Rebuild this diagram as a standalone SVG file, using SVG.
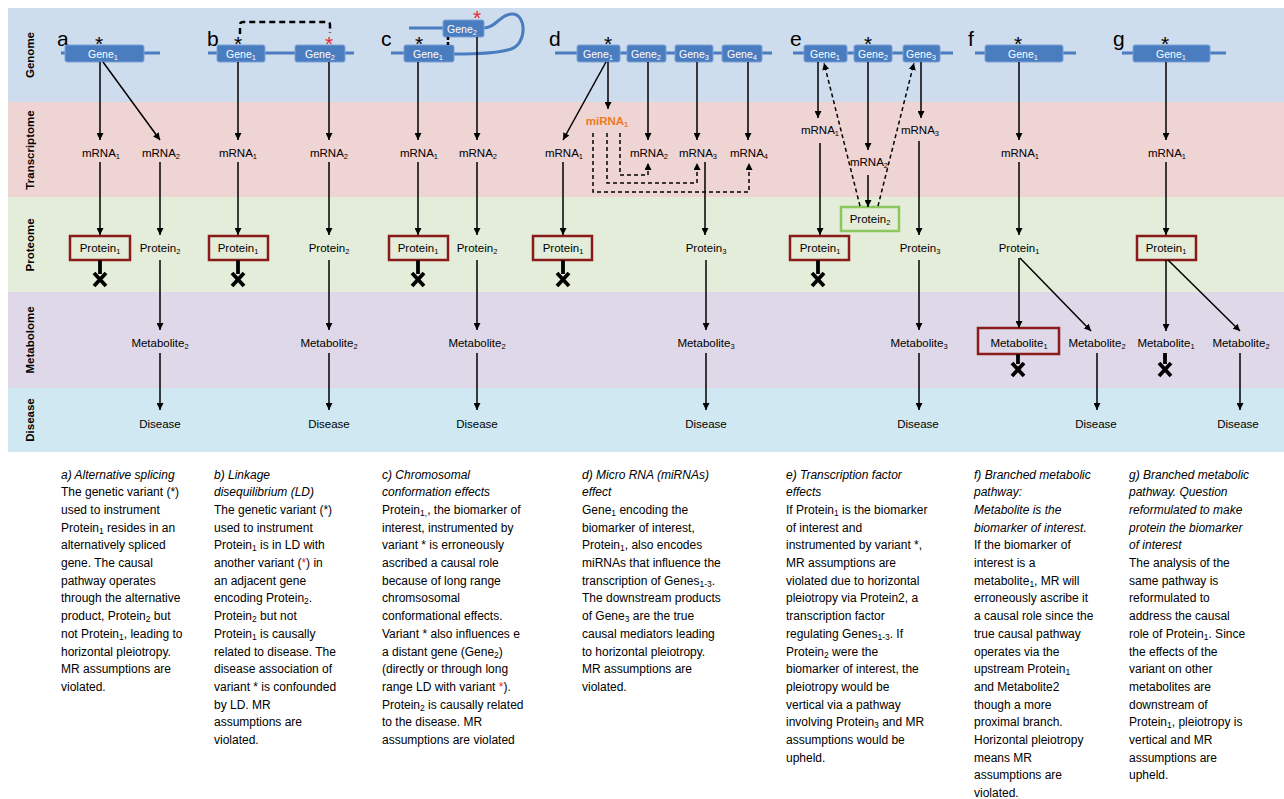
<svg xmlns="http://www.w3.org/2000/svg" width="1284" height="799" viewBox="0 0 1284 799">
<defs>
<marker id="ah" viewBox="0 0 10 10" refX="10" refY="5" markerWidth="7" markerHeight="7" markerUnits="userSpaceOnUse" orient="auto">
<path d="M0,0 L10,5 L0,10 z" fill="#000"/>
</marker>
<style>
text{font-family:"Liberation Sans",Arial,sans-serif;}
.lbl{font-size:11.5px;text-anchor:middle;fill:#000}
.s{font-size:7.5px;baseline-shift:-1.5px}
.gt{font-size:10.5px;text-anchor:middle;fill:#fff}
.gb{fill:#4A7CC0;stroke:#7AA2D6;stroke-width:1}
.gl{stroke:#4A7CC0;stroke-width:3;fill:none}
.row{font-size:11.5px;font-weight:bold;text-anchor:middle}
.let{font-size:21px}
.star{font-size:21px;text-anchor:middle;fill:#000}
.red{fill:#E8282A}
.ar{stroke:#000;stroke-width:1.5;fill:none;marker-end:url(#ah)}
.da{stroke:#000;stroke-width:1.5;fill:none;stroke-dasharray:4,3;marker-end:url(#ah)}
.pb{fill:none;stroke:#8B1A1A;stroke-width:2.5}
.gb2{fill:none;stroke:#8CC65E;stroke-width:2.5}
.x{stroke:#000;stroke-width:3.8;fill:none}
.body{font-size:12px;fill:#000}
.it{font-style:italic}
.bs{font-size:8.5px;baseline-shift:-2px}
</style>
</defs>

<!-- bands -->
<g id="bands">
<rect x="8" y="8" width="1276" height="94" fill="#CEDDEE"/>
<rect x="8" y="102" width="1276" height="95" fill="#EFD4D4"/>
<rect x="8" y="197" width="1276" height="95" fill="#E3EDD9"/>
<rect x="8" y="292" width="1276" height="96" fill="#DFD8E8"/>
<rect x="8" y="388" width="1276" height="64" fill="#CFE8F1"/>
<text class="row" transform="translate(34,55) rotate(-90)">Genome</text>
<text class="row" transform="translate(34,150) rotate(-90)">Transcriptome</text>
<text class="row" transform="translate(34,245) rotate(-90)">Proteome</text>
<text class="row" transform="translate(34,340) rotate(-90)">Metabolome</text>
<text class="row" transform="translate(34,420) rotate(-90)">Disease</text>
</g>

<!-- Panel a -->
<g id="panel-a">
<text class="let" x="57" y="46">a</text>
<line class="gl" x1="61" y1="53" x2="160" y2="53"/>
<rect class="gb" x="65" y="45" width="79" height="17" rx="2"/>
<text class="gt" x="103" y="57.5">Gene<tspan class="s">1</tspan></text>
<text class="star" x="99" y="51">*</text>
<text class="lbl" x="101" y="157">mRNA<tspan class="s">1</tspan></text>
<text class="lbl" x="161" y="157">mRNA<tspan class="s">2</tspan></text>
<rect class="pb" x="70" y="236" width="60" height="24"/>
<text class="lbl" x="100" y="252">Protein<tspan class="s">1</tspan></text>
<text class="lbl" x="160" y="252">Protein<tspan class="s">2</tspan></text>
<text class="lbl" x="160" y="347">Metabolite<tspan class="s">2</tspan></text>
<text class="lbl" x="160" y="428">Disease</text>
</g>

<!-- Panel b -->
<g id="panel-b">
<text class="let" x="207" y="46">b</text>
<line class="gl" x1="208" y1="53" x2="354" y2="53"/>
<rect class="gb" x="217" y="45" width="48" height="17" rx="2"/>
<rect class="gb" x="295" y="45" width="50" height="17" rx="2"/>
<text class="gt" x="241" y="57.5">Gene<tspan class="s">1</tspan></text>
<text class="gt" x="320" y="57.5">Gene<tspan class="s">2</tspan></text>
<text class="star" x="238" y="51">*</text>
<text class="star red" x="329" y="51">*</text>
<text class="lbl" x="238" y="157">mRNA<tspan class="s">1</tspan></text>
<text class="lbl" x="329" y="157">mRNA<tspan class="s">2</tspan></text>
<rect class="pb" x="209" y="236" width="59" height="24"/>
<text class="lbl" x="238" y="252">Protein<tspan class="s">1</tspan></text>
<text class="lbl" x="329" y="252">Protein<tspan class="s">2</tspan></text>
<text class="lbl" x="329" y="347">Metabolite<tspan class="s">2</tspan></text>
<text class="lbl" x="329" y="428">Disease</text>
</g>

<!-- Panel c -->
<g id="panel-c">
<text class="let" x="381" y="46">c</text>
<path class="gl" d="M409,28 L443,28 M484,28 C496,28 500,14 512,14 C527,14 527,44 511,49 C497,54 470,54 454,54 M391,53 L404,53"/>
<rect class="gb" x="443" y="20" width="41" height="17" rx="2"/>
<rect class="gb" x="404" y="45" width="50" height="17" rx="2"/>
<text class="gt" x="462" y="32.5">Gene<tspan class="s">2</tspan></text>
<text class="gt" x="428" y="57.5">Gene<tspan class="s">1</tspan></text>
<text class="star" x="419" y="51">*</text>
<text class="star red" x="477" y="25">*</text>
<line x1="448" y1="37" x2="448" y2="46" stroke="#000" stroke-width="2.5" stroke-dasharray="3,2"/>
<text class="lbl" x="419" y="157">mRNA<tspan class="s">1</tspan></text>
<text class="lbl" x="478" y="157">mRNA<tspan class="s">2</tspan></text>
<rect class="pb" x="389" y="236" width="59" height="24"/>
<text class="lbl" x="418" y="252">Protein<tspan class="s">1</tspan></text>
<text class="lbl" x="477" y="252">Protein<tspan class="s">2</tspan></text>
<text class="lbl" x="477" y="347">Metabolite<tspan class="s">2</tspan></text>
<text class="lbl" x="477" y="428">Disease</text>
</g>

<!-- Panel d -->
<g id="panel-d">
<text class="let" x="549" y="46">d</text>
<line class="gl" x1="555" y1="53" x2="772" y2="53"/>
<rect class="gb" x="577" y="45" width="43" height="17" rx="2"/>
<rect class="gb" x="627" y="45" width="39" height="17" rx="2"/>
<rect class="gb" x="675" y="45" width="38" height="17" rx="2"/>
<rect class="gb" x="722" y="45" width="40" height="17" rx="2"/>
<text class="gt" x="598" y="57.5">Gene<tspan class="s">1</tspan></text>
<text class="gt" x="646" y="57.5">Gene<tspan class="s">2</tspan></text>
<text class="gt" x="694" y="57.5">Gene<tspan class="s">3</tspan></text>
<text class="gt" x="742" y="57.5">Gene<tspan class="s">4</tspan></text>
<text class="star" x="608" y="51">*</text>
<text class="lbl" x="607" y="125" style="fill:#EE7A22;font-weight:bold">miRNA<tspan class="s">1</tspan></text>
<text class="lbl" x="564" y="157">mRNA<tspan class="s">1</tspan></text>
<text class="lbl" x="649" y="157">mRNA<tspan class="s">2</tspan></text>
<text class="lbl" x="698" y="157">mRNA<tspan class="s">3</tspan></text>
<text class="lbl" x="749" y="157">mRNA<tspan class="s">4</tspan></text>
<rect class="pb" x="533" y="236" width="59" height="24"/>
<text class="lbl" x="563" y="252">Protein<tspan class="s">1</tspan></text>
<text class="lbl" x="706" y="252">Protein<tspan class="s">3</tspan></text>
<text class="lbl" x="706" y="347">Metabolite<tspan class="s">3</tspan></text>
<text class="lbl" x="706" y="428">Disease</text>
</g>

<!-- Panel e -->
<g id="panel-e">
<text class="let" x="790" y="46">e</text>
<line class="gl" x1="793" y1="53" x2="953" y2="53"/>
<rect class="gb" x="804" y="45" width="43" height="17" rx="2"/>
<rect class="gb" x="854" y="45" width="38" height="17" rx="2"/>
<rect class="gb" x="903" y="45" width="37" height="17" rx="2"/>
<text class="gt" x="825" y="57.5">Gene<tspan class="s">1</tspan></text>
<text class="gt" x="873" y="57.5">Gene<tspan class="s">2</tspan></text>
<text class="gt" x="921" y="57.5">Gene<tspan class="s">3</tspan></text>
<text class="star" x="868" y="51">*</text>
<text class="lbl" x="820" y="134">mRNA<tspan class="s">1</tspan></text>
<text class="lbl" x="869" y="166">mRNA<tspan class="s">2</tspan></text>
<text class="lbl" x="920" y="134">mRNA<tspan class="s">3</tspan></text>
<rect class="gb2" x="841" y="207" width="58" height="24"/>
<text class="lbl" x="870" y="223">Protein<tspan class="s">2</tspan></text>
<rect class="pb" x="790" y="236" width="59" height="24"/>
<text class="lbl" x="820" y="252">Protein<tspan class="s">1</tspan></text>
<text class="lbl" x="920" y="252">Protein<tspan class="s">3</tspan></text>
<text class="lbl" x="919" y="347">Metabolite<tspan class="s">3</tspan></text>
<text class="lbl" x="918" y="428">Disease</text>
</g>

<!-- Panel f -->
<g id="panel-f">
<text class="let" x="968" y="46">f</text>
<line class="gl" x1="975" y1="53" x2="1076" y2="53"/>
<rect class="gb" x="985" y="45" width="78" height="17" rx="2"/>
<text class="gt" x="1023" y="57.5">Gene<tspan class="s">1</tspan></text>
<text class="star" x="1018" y="51">*</text>
<text class="lbl" x="1020" y="157">mRNA<tspan class="s">1</tspan></text>
<text class="lbl" x="1019" y="252">Protein<tspan class="s">1</tspan></text>
<rect class="pb" x="978" y="328" width="81" height="26"/>
<text class="lbl" x="1019" y="347">Metabolite<tspan class="s">1</tspan></text>
<text class="lbl" x="1097" y="347">Metabolite<tspan class="s">2</tspan></text>
<text class="lbl" x="1096" y="428">Disease</text>
</g>

<!-- Panel g -->
<g id="panel-g">
<text class="let" x="1113" y="46">g</text>
<line class="gl" x1="1122" y1="53" x2="1226" y2="53"/>
<rect class="gb" x="1133" y="45" width="77" height="17" rx="2"/>
<text class="gt" x="1171" y="57.5">Gene<tspan class="s">1</tspan></text>
<text class="star" x="1165" y="51">*</text>
<text class="lbl" x="1167" y="157">mRNA<tspan class="s">1</tspan></text>
<rect class="pb" x="1137" y="236" width="59" height="24"/>
<text class="lbl" x="1166" y="252">Protein<tspan class="s">1</tspan></text>
<text class="lbl" x="1166" y="347">Metabolite<tspan class="s">1</tspan></text>
<text class="lbl" x="1241" y="347">Metabolite<tspan class="s">2</tspan></text>
<text class="lbl" x="1238" y="428">Disease</text>
</g>

<!-- connectors -->
<g id="connectors">
<!-- a -->
<line class="ar" x1="100" y1="62" x2="100" y2="140"/>
<line class="ar" x1="103" y1="62" x2="160" y2="140"/>
<line class="ar" x1="100" y1="162" x2="100" y2="235"/>
<line class="ar" x1="160" y1="162" x2="160" y2="235"/>
<line class="ar" x1="160" y1="260" x2="160" y2="330"/>
<line class="ar" x1="160" y1="353" x2="160" y2="410"/>
<!-- b -->
<path d="M240,34 L240,25 Q240,22 243,22 L327,22 Q330,22 330,25 L330,33" fill="none" stroke="#000" stroke-width="2.5" stroke-dasharray="6,4"/>
<line class="ar" x1="238" y1="62" x2="238" y2="140"/>
<line class="ar" x1="329" y1="62" x2="329" y2="140"/>
<line class="ar" x1="238" y1="162" x2="238" y2="235"/>
<line class="ar" x1="329" y1="162" x2="329" y2="235"/>
<line class="ar" x1="329" y1="260" x2="329" y2="330"/>
<line class="ar" x1="329" y1="353" x2="329" y2="410"/>
<!-- c -->
<line class="ar" x1="418" y1="62" x2="418" y2="140"/>
<line class="ar" x1="477" y1="37" x2="477" y2="140"/>
<line class="ar" x1="418" y1="162" x2="418" y2="235"/>
<line class="ar" x1="477" y1="162" x2="477" y2="235"/>
<line class="ar" x1="477" y1="260" x2="477" y2="330"/>
<line class="ar" x1="477" y1="353" x2="477" y2="410"/>
<!-- d -->
<line class="ar" x1="608" y1="62" x2="608" y2="109"/>
<line class="ar" x1="606" y1="62" x2="563" y2="140"/>
<line class="ar" x1="648" y1="62" x2="648" y2="140"/>
<line class="ar" x1="697" y1="62" x2="697" y2="140"/>
<line class="ar" x1="748" y1="62" x2="748" y2="140"/>
<path class="da" d="M620,133 L620,175 L648,175 L648,163"/>
<path class="da" d="M607,133 L607,183 L697,183 L697,163"/>
<path class="da" d="M593,133 L593,192 L749,192 L749,163"/>
<line class="ar" x1="563" y1="162" x2="563" y2="235"/>
<line class="ar" x1="705" y1="162" x2="705" y2="235"/>
<line class="ar" x1="706" y1="260" x2="706" y2="330"/>
<line class="ar" x1="706" y1="353" x2="706" y2="410"/>
<!-- e -->
<line class="ar" x1="818" y1="62" x2="818" y2="118"/>
<line class="ar" x1="868" y1="62" x2="868" y2="150"/>
<line class="ar" x1="921" y1="62" x2="921" y2="118"/>
<line class="ar" x1="820" y1="143" x2="820" y2="235"/>
<line class="ar" x1="868" y1="175" x2="868" y2="207"/>
<line class="da" x1="860" y1="206" x2="824" y2="63"/>
<line class="da" x1="878" y1="206" x2="914" y2="63"/>
<line class="ar" x1="919" y1="141" x2="919" y2="235"/>
<line class="ar" x1="919" y1="260" x2="919" y2="330"/>
<line class="ar" x1="919" y1="353" x2="919" y2="410"/>
<!-- f -->
<line class="ar" x1="1019" y1="62" x2="1019" y2="140"/>
<line class="ar" x1="1019" y1="162" x2="1019" y2="235"/>
<line class="ar" x1="1019" y1="258" x2="1019" y2="328"/>
<line class="ar" x1="1020" y1="258" x2="1091" y2="331"/>
<line class="ar" x1="1097" y1="353" x2="1097" y2="410"/>
<!-- g -->
<line class="ar" x1="1166" y1="62" x2="1166" y2="140"/>
<line class="ar" x1="1166" y1="162" x2="1166" y2="235"/>
<line class="ar" x1="1166" y1="260" x2="1166" y2="331"/>
<line class="ar" x1="1168" y1="260" x2="1240" y2="331"/>
<line class="ar" x1="1240" y1="353" x2="1240" y2="410"/>
<!-- blocked effects -->
<path class="x" d="M100,260 L100,274 M94,273 L106,286 M106,273 L94,286"/>
<path class="x" d="M238,260 L238,274 M232,273 L244,286 M244,273 L232,286"/>
<path class="x" d="M418,260 L418,274 M412,273 L424,286 M424,273 L412,286"/>
<path class="x" d="M563,260 L563,274 M557,273 L569,286 M569,273 L557,286"/>
<path class="x" d="M818,260 L818,274 M812,273 L824,286 M824,273 L812,286"/>
<path class="x" d="M1018,354 L1018,364 M1012,363 L1024,376 M1024,363 L1012,376"/>
<path class="x" d="M1165,353 L1165,364 M1159,363 L1171,376 M1171,363 L1159,376"/>
</g>

<!-- captions -->
<g id="captions">
<text class="body" y="478.5">
<tspan x="61" class="it">a) Alternative splicing</tspan>
<tspan x="61" dy="17.7">The genetic variant (*)</tspan>
<tspan x="61" dy="17.7">used to instrument</tspan>
<tspan x="61" dy="17.7">Protein<tspan class="bs">1</tspan> resides in an</tspan>
<tspan x="61" dy="17.7">alternatively  spliced</tspan>
<tspan x="61" dy="17.7">gene. The causal</tspan>
<tspan x="61" dy="17.7">pathway operates</tspan>
<tspan x="61" dy="17.7">through the alternative</tspan>
<tspan x="61" dy="17.7">product, Protein<tspan class="bs">2</tspan> but</tspan>
<tspan x="61" dy="17.7">not Protein<tspan class="bs">1</tspan>, leading to</tspan>
<tspan x="61" dy="17.7">horizontal pleiotropy.</tspan>
<tspan x="61" dy="17.7">MR assumptions are</tspan>
<tspan x="61" dy="17.7">violated.</tspan>
</text>
<text class="body" y="478.5">
<tspan x="214" class="it">b) Linkage</tspan>
<tspan x="214" dy="17.7" class="it">disequilibrium (LD)</tspan>
<tspan x="214" dy="17.7">The genetic variant (*)</tspan>
<tspan x="214" dy="17.7">used to instrument</tspan>
<tspan x="214" dy="17.7">Protein<tspan class="bs">1</tspan> is in LD with</tspan>
<tspan x="214" dy="17.7">another variant (<tspan fill="#E8282A">*</tspan>) in</tspan>
<tspan x="214" dy="17.7">an adjacent gene</tspan>
<tspan x="214" dy="17.7">encoding Protein<tspan class="bs">2</tspan>.</tspan>
<tspan x="214" dy="17.7">Protein<tspan class="bs">2</tspan> but not</tspan>
<tspan x="214" dy="17.7">Protein<tspan class="bs">1</tspan> is causally</tspan>
<tspan x="214" dy="17.7">related to disease. The</tspan>
<tspan x="214" dy="17.7">disease association of</tspan>
<tspan x="214" dy="17.7">variant * is confounded</tspan>
<tspan x="214" dy="17.7">by LD. MR</tspan>
<tspan x="214" dy="17.7">assumptions are</tspan>
<tspan x="214" dy="17.7">violated.</tspan>
</text>
<text class="body" y="478.5">
<tspan x="382" class="it">c) Chromosomal</tspan>
<tspan x="382" dy="17.7" class="it">conformation effects</tspan>
<tspan x="382" dy="17.7">Protein<tspan class="bs">1,</tspan>, the biomarker of</tspan>
<tspan x="382" dy="17.7">interest, instrumented by</tspan>
<tspan x="382" dy="17.7">variant  * is erroneously</tspan>
<tspan x="382" dy="17.7">ascribed a causal role</tspan>
<tspan x="382" dy="17.7">because of long range</tspan>
<tspan x="382" dy="17.7">chromsosomal</tspan>
<tspan x="382" dy="17.7">conformational effects.</tspan>
<tspan x="382" dy="17.7">Variant *  also influences e</tspan>
<tspan x="382" dy="17.7">a distant gene (Gene<tspan class="bs">2</tspan>)</tspan>
<tspan x="382" dy="17.7">(directly or through long</tspan>
<tspan x="382" dy="17.7">range LD with variant <tspan fill="#E8282A">*</tspan>).</tspan>
<tspan x="382" dy="17.7">Protein<tspan class="bs">2</tspan> is causally related</tspan>
<tspan x="382" dy="17.7">to the disease.  MR</tspan>
<tspan x="382" dy="17.7">assumptions are violated</tspan>
</text>
<text class="body" y="478.5">
<tspan x="582" class="it">d) Micro RNA (miRNAs)</tspan>
<tspan x="582" dy="17.7" class="it">effect</tspan>
<tspan x="582" dy="17.7">Gene<tspan class="bs">1</tspan> encoding the</tspan>
<tspan x="582" dy="17.7">biomarker of interest,</tspan>
<tspan x="582" dy="17.7">Protein<tspan class="bs">1</tspan>, also encodes</tspan>
<tspan x="582" dy="17.7">miRNAs that influence the</tspan>
<tspan x="582" dy="17.7">transcription of Genes<tspan class="bs">1-3</tspan>.</tspan>
<tspan x="582" dy="17.7">The downstream products</tspan>
<tspan x="582" dy="17.7">of Gene<tspan class="bs">3</tspan> are the true</tspan>
<tspan x="582" dy="17.7">causal mediators leading</tspan>
<tspan x="582" dy="17.7">to horizontal pleiotropy.</tspan>
<tspan x="582" dy="17.7">MR assumptions are</tspan>
<tspan x="582" dy="17.7">violated.</tspan>
</text>
<text class="body" y="478.5">
<tspan x="786" class="it">e) Transcription factor</tspan>
<tspan x="786" dy="17.7" class="it">effects</tspan>
<tspan x="786" dy="17.7">If Protein<tspan class="bs">1</tspan> is the biomarker</tspan>
<tspan x="786" dy="17.7">of interest and</tspan>
<tspan x="786" dy="17.7">instrumented by variant  *,</tspan>
<tspan x="786" dy="17.7">MR assumptions are</tspan>
<tspan x="786" dy="17.7">violated  due to horizontal</tspan>
<tspan x="786" dy="17.7">pleiotropy via Protein2, a</tspan>
<tspan x="786" dy="17.7">transcription factor</tspan>
<tspan x="786" dy="17.7">regulating Genes<tspan class="bs">1-3</tspan>. If</tspan>
<tspan x="786" dy="17.7">Protein<tspan class="bs">2</tspan> were the</tspan>
<tspan x="786" dy="17.7">biomarker of interest, the</tspan>
<tspan x="786" dy="17.7">pleiotropy would be</tspan>
<tspan x="786" dy="17.7">vertical via a pathway</tspan>
<tspan x="786" dy="17.7">involving  Protein<tspan class="bs">3</tspan> and MR</tspan>
<tspan x="786" dy="17.7">assumptions would be</tspan>
<tspan x="786" dy="17.7">upheld.</tspan>
</text>
<text class="body" y="478.5">
<tspan x="974" class="it">f) Branched metabolic</tspan>
<tspan x="974" dy="17.7" class="it">pathway:</tspan>
<tspan x="974" dy="17.7" class="it">Metabolite is the</tspan>
<tspan x="974" dy="17.7" class="it">biomarker of interest.</tspan>
<tspan x="974" dy="17.7">If the biomarker of</tspan>
<tspan x="974" dy="17.7">interest is a</tspan>
<tspan x="974" dy="17.7">metabolite<tspan class="bs">1</tspan>,  MR will</tspan>
<tspan x="974" dy="17.7">erroneously ascribe it</tspan>
<tspan x="974" dy="17.7">a causal role since the</tspan>
<tspan x="974" dy="17.7">true causal pathway</tspan>
<tspan x="974" dy="17.7">operates via the</tspan>
<tspan x="974" dy="17.7">upstream Protein<tspan class="bs">1</tspan></tspan>
<tspan x="974" dy="17.7">and Metabolite2</tspan>
<tspan x="974" dy="17.7">though a more</tspan>
<tspan x="974" dy="17.7">proximal branch.</tspan>
<tspan x="974" dy="17.7">Horizontal pleiotropy</tspan>
<tspan x="974" dy="17.7">means MR</tspan>
<tspan x="974" dy="17.7">assumptions are</tspan>
<tspan x="974" dy="17.7">violated.</tspan>
</text>
<text class="body" y="478.5">
<tspan x="1129" class="it">g) Branched metabolic</tspan>
<tspan x="1129" dy="17.7" class="it">pathway. Question</tspan>
<tspan x="1129" dy="17.7" class="it">reformulated to make</tspan>
<tspan x="1129" dy="17.7" class="it">protein the biomarker</tspan>
<tspan x="1129" dy="17.7" class="it">of interest</tspan>
<tspan x="1129" dy="17.7">The analysis of the</tspan>
<tspan x="1129" dy="17.7">same pathway is</tspan>
<tspan x="1129" dy="17.7">reformulated  to</tspan>
<tspan x="1129" dy="17.7">address the causal</tspan>
<tspan x="1129" dy="17.7">role of Protein<tspan class="bs">1</tspan>. Since</tspan>
<tspan x="1129" dy="17.7">the effects of the</tspan>
<tspan x="1129" dy="17.7">variant  on other</tspan>
<tspan x="1129" dy="17.7">metabolites  are</tspan>
<tspan x="1129" dy="17.7">downstream of</tspan>
<tspan x="1129" dy="17.7">Protein<tspan class="bs">1</tspan>, pleiotropy is</tspan>
<tspan x="1129" dy="17.7">vertical  and MR</tspan>
<tspan x="1129" dy="17.7">assumptions are</tspan>
<tspan x="1129" dy="17.7">upheld.</tspan>
</text>
</g>
</svg>
